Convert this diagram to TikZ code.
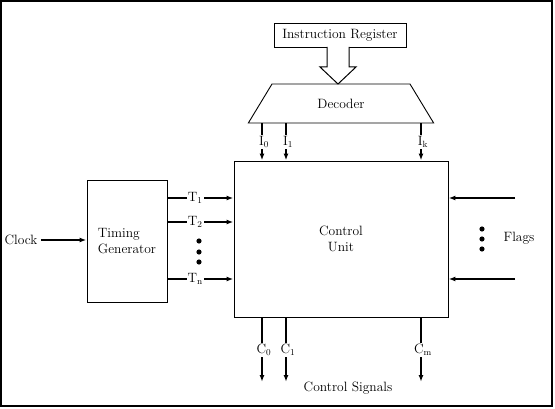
\documentclass[tikz,border=0pt]{standalone}
\usetikzlibrary{shapes.geometric,arrows.meta,calc}
\begin{document}
\begin{tikzpicture}[x=1pt,y=-1pt,
  every node/.style={font=\fontsize{13.5}{16.5}\selectfont},
  box/.style={draw,line width=0.9pt,inner sep=2pt},
  arr/.style={line width=1.4pt,-{Latex[length=7pt,width=5pt]}},
  lab/.style={fill=white,inner sep=1pt}]
\useasboundingbox (0,0) rectangle (555,409);
\draw[line width=2pt] (1,1) rectangle (552,406);
% boxes
\node[box,minimum width=132,minimum height=24] (ir) at (340,35) {Instruction Register};
\node[box,trapezium,trapezium stretches=true,trapezium left angle=57,trapezium right angle=57,
      minimum width=186,minimum height=39] (dec) at (341,103.5) {Decoder};
\node[box,minimum width=214,minimum height=156,align=center] (cu) at (341,239) {Control\\Unit};
\node[box,minimum width=80,minimum height=122,align=left] (tg) at (127,241) {Timing\\Generator};
\node (clk) at (21,240) {Clock};
\node (flags) at (519,238) {Flags};
\node (cs) at (348,388) {Control Signals};
% hollow arrow
\draw[line width=1pt,fill=white] (327,47) -- (327,67) -- (320,67) -- (338,84) -- (356,67) -- (349,67) -- (349,47);
% decoder outputs
\foreach \x/\l in {262/I$_0$,286/I$_1$,421/I$_{\mathrm{k}}$}{
  \coordinate (ix) at (\x,0);
  \draw[arr] (dec.south -| ix) -- (cu.north -| ix) node[lab,midway,xshift=2pt] {\l};
}
% clock
\draw[arr] (clk.east) -- (tg.west |- clk.east);
% timing outputs
\foreach \y/\l in {198/T$_1$,222/T$_2$,279/T$_{\mathrm{n}}$}{
  \coordinate (ty) at (0,\y);
  \draw[arr] (tg.east |- ty) -- (cu.west |- ty) node[lab,pos=0.42] {\l};
}
\foreach \y in {241,252,262} \fill (199,\y) circle (2.6);
% flags
\foreach \y in {198,279}{
  \coordinate (fy) at (515,\y);
  \draw[arr] (fy) -- (cu.east |- fy);
}
\foreach \y in {229,239,249} \fill (482,\y) circle (2.6);
% control signals
\foreach \x/\l in {262/C$_0$,286/C$_1$,421/C$_{\mathrm{m}}$}{
  \coordinate (cx) at (\x,382);
  \draw[arr] (cu.south -| cx) -- (cx) node[lab,pos=0.5,xshift=2pt] {\l};
}
\end{tikzpicture}
\end{document}
